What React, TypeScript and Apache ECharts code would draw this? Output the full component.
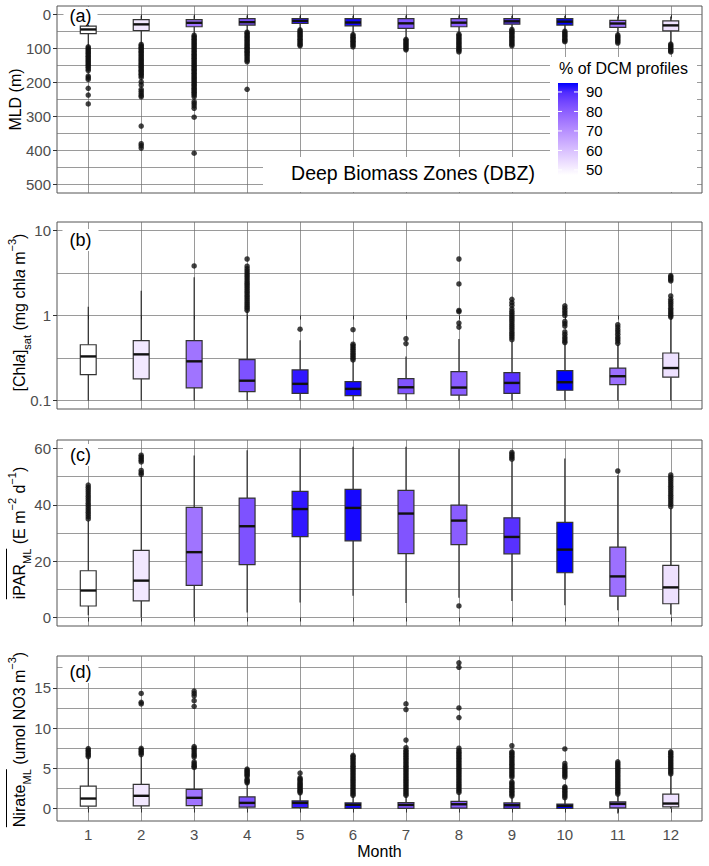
import React, { useEffect, useRef } from "react";
import * as echarts from "echarts";

const FONT = '"Liberation Sans", Arial, Helvetica, sans-serif';

// ---------- data ----------
const months = [1, 2, 3, 4, 5, 6, 7, 8, 9, 10, 11, 12];
const monthLabels = ["1", "2", "3", "4", "5", "6", "7", "8", "9", "10", "11", "12"];

// % of DCM profiles per month (fill colour)
const dcmPercent = [47.4, 52.1, 75.7, 82.8, 92.7, 94.1, 82.3, 80.4, 88.9, 94.6, 76.7, 53.5];
const legendTicks = [50, 60, 70, 80, 90];

// (a) MLD (m): [lower whisker, q1, median, q3, upper whisker]
const mldStats = [
  [20, 34, 44, 56, 92],
  [4, 15, 29, 47, 85],
  [3, 15, 24.5, 36, 58],
  [3, 12, 22.5, 31, 50],
  [4, 12, 19, 26.5, 43],
  [4, 12, 23.5, 33.5, 56],
  [3, 12, 26, 41, 70],
  [3, 12, 24, 36, 56],
  [4, 12, 20, 28.5, 42],
  [4, 12, 21, 31, 47],
  [6, 17, 26.5, 38, 57],
  [6, 19, 32, 48, 84],
];
const mldOutliers = [
  [95, 99, 103, 107, 111, 115, 119, 123, 127, 131, 135, 139, 143, 147, 151, 155, 160, 165, 181, 186, 191, 217, 237, 263],
  [88, 92, 96, 100, 104, 108, 112, 116, 120, 124, 128, 132, 136, 140, 144, 148, 152, 156, 160, 164, 168, 172, 176, 180, 185, 198, 207, 220, 226, 232, 238, 242, 328, 380, 386, 393],
  [61, 65, 69, 73, 77, 81, 85, 89, 93, 97, 101, 105, 109, 113, 117, 121, 125, 129, 133, 137, 141, 145, 149, 153, 157, 161, 165, 169, 173, 177, 181, 185, 189, 193, 197, 201, 205, 209, 213, 217, 221, 225, 229, 233, 237, 242, 256, 262, 269, 276, 302, 408],
  [52, 56, 60, 64, 68, 72, 76, 80, 84, 88, 92, 96, 100, 104, 108, 112, 116, 120, 125, 130, 135, 139, 220],
  [45, 49, 53, 57, 61, 65, 69, 73, 77, 81, 85, 89, 92],
  [59, 63, 67, 71, 75, 79, 83, 87, 91, 95],
  [73, 77, 81, 85, 89, 93, 97, 101, 104],
  [58, 62, 66, 70, 74, 78, 82, 86, 90, 94, 98, 102, 106, 110],
  [44, 48, 52, 56, 60, 64, 68, 72, 76, 80, 84, 88, 92],
  [49, 53, 57, 61, 65, 69, 73, 77, 80],
  [60, 64, 68, 72, 76, 80, 84],
  [87, 91, 95, 99, 103, 107, 110],
];
const mldTicks = [0, 100, 200, 300, 400, 500];
const mldTickLabels = ["0", "100", "200", "300", "400", "500"];
const mldGridValues = [0, 50, 100, 150, 200, 250, 300, 350, 400, 450, 500];

// (b) [Chl a]sat (mg chl a m-3)
const chlStats = [
  [0.1, 0.202, 0.33, 0.453, 1.27],
  [0.1, 0.18, 0.349, 0.505, 1.95],
  [0.1, 0.141, 0.289, 0.505, 2.82],
  [0.1, 0.1275, 0.171, 0.302, 1.13],
  [0.1, 0.121, 0.157, 0.229, 0.51],
  [0.1, 0.1144, 0.137, 0.167, 0.29],
  [0.1, 0.12, 0.143, 0.181, 0.33],
  [0.1, 0.1154, 0.142, 0.219, 0.528],
  [0.1, 0.121, 0.161, 0.213, 0.495],
  [0.1, 0.132, 0.164, 0.225, 0.466],
  [0.1, 0.154, 0.193, 0.241, 0.453],
  [0.1, 0.188, 0.241, 0.362, 0.93],
];
const chlOutliers = [
  [],
  [],
  [3.83],
  [1.15, 1.22, 1.28, 1.35, 1.42, 1.5, 1.58, 1.67, 1.76, 1.86, 1.96, 2.07, 2.18, 2.3, 2.42, 2.55, 2.7, 2.85, 3.0, 3.17, 3.35, 3.55, 3.8, 4.62],
  [0.69],
  [0.3, 0.315, 0.33, 0.345, 0.36, 0.38, 0.4, 0.42, 0.44, 0.46, 0.68],
  [0.467, 0.533],
  [0.73, 0.815, 1.11, 1.145, 2.35, 4.62],
  [0.52, 0.55, 0.58, 0.61, 0.64, 0.68, 0.72, 0.76, 0.8, 0.85, 0.9, 0.95, 1.0, 1.06, 1.12, 1.2, 1.32, 1.42, 1.55],
  [0.48, 0.5, 0.53, 0.56, 0.6, 0.64, 0.75, 0.8, 0.85, 1.0, 1.07, 1.14, 1.22, 1.3],
  [0.47, 0.5, 0.53, 0.56, 0.6, 0.64, 0.68, 0.73, 0.78],
  [0.96, 1.0, 1.05, 1.1, 1.16, 1.22, 1.3, 1.38, 1.46, 1.55, 1.7, 2.55, 2.65, 2.75, 2.85, 2.95],
];
const chlTicks = [0.1, 1, 10];
const chlTickLabels = ["0.1", "1", "10"];
const chlGridValues = [0.1, 0.31623, 1, 3.1623, 10];

// (c) iPAR_ML (E m-2 d-1)
const iparStats = [
  [0.8, 4.1, 9.6, 16.6, 34.3],
  [0.2, 5.9, 13.1, 23.8, 50.2],
  [0.2, 11.4, 23.2, 39.1, 57.5],
  [1.8, 18.8, 32.4, 42.4, 59.4],
  [5.3, 28.7, 38.5, 44.8, 60.0],
  [7.7, 27.2, 38.9, 45.5, 60.6],
  [5.2, 22.7, 36.9, 45.1, 60.6],
  [7.0, 25.9, 34.4, 39.9, 59.9],
  [5.9, 22.6, 28.6, 35.4, 55.5],
  [4.4, 15.9, 24.1, 33.8, 56.4],
  [2.6, 7.6, 14.6, 25.0, 50.5],
  [1.1, 4.9, 10.7, 18.5, 38.7],
];
const iparOutliers = [
  [35, 35.8, 36.6, 37.4, 38.2, 39, 39.8, 40.6, 41.4, 42.2, 43, 43.8, 44.6, 45.4, 46.2, 47],
  [50.8, 51.4, 52.2, 55.2, 55.8, 56.4, 57, 57.6],
  [],
  [],
  [],
  [],
  [],
  [4.1],
  [56.2, 56.8, 57.4, 58, 58.6],
  [],
  [52],
  [39.4, 40.2, 41, 41.8, 42.6, 43.4, 44.2, 45, 45.8, 46.6, 47.4, 48.2, 49, 49.8, 50.6],
];
const iparTicks = [0, 20, 40, 60];
const iparTickLabels = ["0", "20", "40", "60"];
const iparGridValues = [0, 10, 20, 30, 40, 50, 60];

// (d) Nirate_ML (umol NO3 m-3)
const nitStats = [
  [0, 0.29, 1.24, 2.78, 6.3],
  [0, 0.33, 1.58, 2.99, 6.6],
  [0, 0.37, 1.33, 2.37, 4.9],
  [0, 0.17, 0.7, 1.45, 3.1],
  [0, 0.12, 0.7, 0.95, 1.85],
  [0, 0.02, 0.46, 0.7, 1.55],
  [0, 0.02, 0.45, 0.74, 1.55],
  [0, 0.04, 0.53, 0.9, 1.86],
  [0, 0.02, 0.41, 0.7, 1.45],
  [0, 0.0, 0.33, 0.54, 1.25],
  [-0.62, 0.08, 0.58, 0.83, 1.66],
  [0, 0.2, 0.62, 1.78, 4.15],
];
const nitOutliers = [
  [6.45, 6.65, 6.85, 7.05, 7.25, 7.45],
  [6.7, 6.9, 7.1, 7.3, 7.47, 13.0, 13.2, 14.3],
  [5.1, 5.25, 5.4, 5.6, 5.8, 6.4, 6.6, 6.8, 7.05, 7.3, 7.5, 7.7, 12.7, 13.4, 14.0, 14.3, 14.6],
  [3.2, 3.35, 3.5, 3.65, 4.0, 4.15, 4.3, 4.45, 4.6, 4.75, 4.9],
  [1.95, 2.1, 2.25, 2.4, 2.55, 2.7, 2.85, 3.0, 3.15, 3.3, 3.5, 3.65, 3.8, 4.4],
  [1.65, 1.85, 2.05, 2.25, 2.45, 2.65, 2.85, 3.05, 3.25, 3.45, 3.65, 3.85, 4.05, 4.25, 4.45, 4.65, 4.85, 5.05, 5.25, 5.45, 5.65, 5.85, 6.05, 6.25, 6.45, 6.6],
  [1.65, 1.85, 2.05, 2.25, 2.45, 2.65, 2.85, 3.05, 3.25, 3.45, 3.65, 3.85, 4.05, 4.25, 4.45, 4.65, 4.85, 5.05, 5.25, 5.45, 5.65, 5.85, 6.05, 6.25, 6.45, 6.65, 6.85, 7.05, 7.25, 7.55, 8.5, 12.3, 13.0],
  [2.0, 2.2, 2.4, 2.6, 2.8, 3.0, 3.2, 3.4, 3.6, 3.8, 4.0, 4.2, 4.4, 4.6, 4.8, 5.0, 5.2, 5.4, 5.6, 5.8, 6.0, 6.2, 6.4, 6.6, 6.8, 7.0, 7.2, 7.5, 11.3, 12.5, 17.55, 18.1],
  [1.55, 1.75, 1.95, 2.15, 2.35, 2.55, 2.75, 2.95, 3.15, 3.3, 3.9, 4.1, 4.3, 4.5, 4.7, 4.9, 5.1, 5.3, 5.5, 5.7, 5.9, 6.1, 6.3, 6.5, 6.7, 6.9, 7.05, 7.8],
  [1.35, 1.55, 1.75, 1.95, 2.15, 2.35, 2.55, 2.7, 3.9, 4.1, 4.3, 4.5, 4.7, 4.9, 5.1, 5.3, 5.6, 7.4],
  [1.8, 2.0, 2.2, 2.4, 2.6, 2.8, 3.0, 3.2, 3.4, 3.6, 3.8, 4.0, 4.2, 4.4, 4.6, 4.8, 5.0, 5.2, 5.4, 5.6, 5.8],
  [4.3, 4.5, 4.7, 4.9, 5.1, 5.3, 5.5, 5.7, 5.9, 6.1, 6.3, 6.5, 6.7, 6.9, 7.05],
];
const nitTicks = [0, 5, 10, 15];
const nitTickLabels = ["0", "5", "10", "15"];
const nitGridValues = [0, 2.5, 5, 7.5, 10, 12.5, 15, 17.5];

// ---------- colour helpers (CIELAB ramp white -> blue, like ggplot) ----------
function toLin(c: number) {
  c /= 255;
  return c <= 0.04045 ? c / 12.92 : Math.pow((c + 0.055) / 1.055, 2.4);
}
function fromLin(c: number) {
  const v = c <= 0.0031308 ? 12.92 * c : 1.055 * Math.pow(c, 1 / 2.4) - 0.055;
  return Math.round(Math.max(0, Math.min(1, v)) * 255);
}
function rgbToLab(rgb: number[]) {
  const R = toLin(rgb[0]), G = toLin(rgb[1]), B = toLin(rgb[2]);
  const X = (0.4124 * R + 0.3576 * G + 0.1805 * B) / 0.95047;
  const Y = 0.2126 * R + 0.7152 * G + 0.0722 * B;
  const Z = (0.0193 * R + 0.1192 * G + 0.9505 * B) / 1.08883;
  const f = (t: number) => (t > 0.008856 ? Math.cbrt(t) : 7.787 * t + 16 / 116);
  const fx = f(X), fy = f(Y), fz = f(Z);
  return [116 * fy - 16, 500 * (fx - fy), 200 * (fy - fz)];
}
function labToHex(lab: number[]) {
  const fy = (lab[0] + 16) / 116;
  const fx = fy + lab[1] / 500;
  const fz = fy - lab[2] / 200;
  const inv = (t: number) => (t * t * t > 0.008856 ? t * t * t : (t - 16 / 116) / 7.787);
  const X = inv(fx) * 0.95047, Y = inv(fy), Z = inv(fz) * 1.08883;
  const R = 3.2406 * X - 1.5372 * Y - 0.4986 * Z;
  const G = -0.9689 * X + 1.8758 * Y + 0.0415 * Z;
  const B = 0.0557 * X - 0.204 * Y + 1.057 * Z;
  const h = (n: number) => n.toString(16).padStart(2, "0");
  return "#" + h(fromLin(R)) + h(fromLin(G)) + h(fromLin(B));
}
const LAB_LOW = rgbToLab([255, 255, 255]);
const LAB_HIGH = rgbToLab([0, 0, 255]);
function ramp(t: number) {
  const tt = Math.max(0, Math.min(1, t));
  return labToHex(LAB_LOW.map((v, i) => v + (LAB_HIGH[i] - v) * tt));
}

function measure(txt: string, size: number, style = "normal") {
  const ctx = document.createElement("canvas").getContext("2d")!;
  ctx.font = `${style} ${size}px ${FONT}`;
  return ctx.measureText(txt).width;
}

// ---------- layout ----------
const GRIDS = [
  { left: 57, top: 6, width: 645, height: 187 },
  { left: 57, top: 222, width: 645, height: 187 },
  { left: 57, top: 440, width: 645, height: 186 },
  { left: 57, top: 656, width: 645, height: 165 },
];
const GRID_LINE = { color: "#6e6e6e", width: 0.7 };
const TICK_COLOR = "#333";
const LABEL_COLOR = "#4d4d4d";

export default function App() {
  const ref = useRef<HTMLDivElement>(null);

  useEffect(() => {
    document.body.style.margin = "0";
    if (!ref.current) return;
    const chart = echarts.init(ref.current, undefined, { renderer: "svg" });

    const pMin = Math.min(...dcmPercent);
    const pMax = Math.max(...dcmPercent);
    const fills = dcmPercent.map((p) => ramp((p - pMin) / (pMax - pMin)));

    const lg = (v: number) => Math.log10(v);
    const id = (v: number) => v;

    const panels = [
      { stats: mldStats, outs: mldOutliers, tf: id, ticks: mldTicks, labels: mldTickLabels, gridVals: mldGridValues, min: -25, max: 525, inverse: true },
      { stats: chlStats, outs: chlOutliers, tf: lg, ticks: chlTicks, labels: chlTickLabels, gridVals: chlGridValues, min: -1.1, max: 1.1, inverse: false },
      { stats: iparStats, outs: iparOutliers, tf: id, ticks: iparTicks, labels: iparTickLabels, gridVals: iparGridValues, min: -3, max: 63, inverse: false },
      { stats: nitStats, outs: nitOutliers, tf: id, ticks: nitTicks, labels: nitTickLabels, gridVals: nitGridValues, min: -1.55, max: 18.95, inverse: false },
    ];

    const grid: any[] = [];
    const xAxis: any[] = [];
    const yAxis: any[] = [];
    const series: any[] = [];

    panels.forEach((p, gi) => {
      grid.push({ ...GRIDS[gi], show: true, borderColor: "#555", borderWidth: 1, backgroundColor: "transparent", containLabel: false });
      xAxis.push({
        type: "value",
        gridIndex: gi,
        min: 0.41,
        max: 12.59,
        axisLine: { show: false },
        axisTick: { show: true, customValues: months, length: 4, lineStyle: { color: TICK_COLOR, width: 1 } },
        axisLabel: {
          show: gi === 3,
          customValues: months,
          formatter: (v: number) => monthLabels[months.indexOf(Math.round(v))],
          fontSize: 15,
          color: LABEL_COLOR,
          margin: 6,
          fontFamily: FONT,
        },
        splitLine: { show: true, lineStyle: GRID_LINE },
      });
      const tfGrid = p.gridVals.map(p.tf);
      const tfTicks = p.ticks.map(p.tf);
      // axis carrying the (major + minor) grid lines
      yAxis.push({
        type: "value",
        gridIndex: gi,
        position: "left",
        min: p.min,
        max: p.max,
        inverse: p.inverse,
        axisLine: { show: false },
        axisTick: { show: false, customValues: tfGrid },
        axisLabel: { show: false, customValues: tfGrid },
        splitLine: { show: true, lineStyle: GRID_LINE },
      });
      // axis carrying labels and tick marks
      yAxis.push({
        type: "value",
        gridIndex: gi,
        position: "left",
        min: p.min,
        max: p.max,
        inverse: p.inverse,
        axisLine: { show: false },
        axisTick: { show: true, customValues: tfTicks, length: 4, lineStyle: { color: TICK_COLOR, width: 1 } },
        axisLabel: {
          show: true,
          customValues: tfTicks,
          formatter: (v: number) => {
            const k = tfTicks.findIndex((t) => Math.abs(t - v) < 1e-6);
            return k >= 0 ? p.labels[k] : "";
          },
          fontSize: 15,
          color: LABEL_COLOR,
          margin: 6,
          fontFamily: FONT,
        },
        splitLine: { show: false },
      });

      series.push({
        type: "custom",
        xAxisIndex: gi,
        yAxisIndex: gi * 2,
        silent: true,
        z: 3,
        encode: { x: 0, y: [1, 2, 3, 4, 5] },
        data: p.stats.map((s, k) => [months[k], ...s.map(p.tf)]),
        renderItem: (params: any, api: any) => {
          const x = api.value(0);
          const pts = [1, 2, 3, 4, 5].map((d) => api.coord([x, api.value(d)]));
          const w = api.size([0.3, 0])[0];
          const cx = pts[0][0];
          const top = Math.min(pts[1][1], pts[3][1]);
          const h = Math.abs(pts[1][1] - pts[3][1]);
          return {
            type: "group",
            children: [
              { type: "line", shape: { x1: cx, y1: pts[0][1], x2: cx, y2: pts[1][1] }, style: { stroke: "#222", lineWidth: 1.1 } },
              { type: "line", shape: { x1: cx, y1: pts[3][1], x2: cx, y2: pts[4][1] }, style: { stroke: "#222", lineWidth: 1.1 } },
              { type: "rect", shape: { x: cx - w / 2, y: top, width: w, height: h }, style: { fill: fills[params.dataIndex], stroke: "#333", lineWidth: 1.2 } },
              { type: "line", shape: { x1: cx - w / 2, y1: pts[2][1], x2: cx + w / 2, y2: pts[2][1] }, style: { stroke: "#111", lineWidth: 2.4 } },
            ],
          };
        },
      });
      series.push({
        type: "scatter",
        xAxisIndex: gi,
        yAxisIndex: gi * 2,
        silent: true,
        z: 4,
        symbol: "circle",
        symbolSize: 5.5,
        itemStyle: { color: "#111" },
        data: p.outs.flatMap((arr, k) => arr.map((v) => [months[k], p.tf(v)])),
      });
    });

    // ---------- axis titles ----------
    const mainSize = 16;
    const subSize = 11;
    const rich = {
      m: { fontSize: mainSize, lineHeight: 26, fontFamily: FONT, fill: "#000" },
      i: { fontSize: mainSize, lineHeight: 26, fontFamily: FONT, fontStyle: "italic", fill: "#000" },
      sub: { fontSize: subSize, lineHeight: 18, verticalAlign: "bottom", fontFamily: FONT, fill: "#000" },
      sup: { fontSize: subSize, lineHeight: 10, verticalAlign: "top", fontFamily: FONT, fill: "#000" },
    };
    const rotTitle = (x: number, y: number, text: string) => ({
      type: "text",
      x,
      y,
      rotation: Math.PI / 2,
      z: 70,
      silent: true,
      style: { text, rich, align: "center", verticalAlign: "middle", fontSize: mainSize, fontFamily: FONT, fill: "#000" },
    });
    const cy = (gi: number) => GRIDS[gi].top + GRIDS[gi].height / 2;

    const cTotal = measure("iPAR", mainSize) + measure("ML", subSize) + measure(" (E m", mainSize) + measure("−2", subSize) + measure(" d", mainSize) + measure("−1", subSize) + measure(")", mainSize);
    const cBar = measure("iPAR", mainSize) + measure("ML", subSize);
    const dTotal = measure("Nirate", mainSize) + measure("ML", subSize) + measure(" (umol NO3 m", mainSize) + measure("−3", subSize) + measure(")", mainSize);
    const dBar = measure("Nirate", mainSize) + measure("ML", subSize);

    const titleX = 19.5;
    const barX = titleX - 13;

    const graphic: any[] = [
      rotTitle(15, cy(0), "{m|MLD (m)}"),
      rotTitle(titleX, cy(1) - 3, "{m|[Chl}{i|a}{m|]}{sub|sat}{m| (mg chl}{i|a}{m| m}{sup|−3}{m|)}"),
      rotTitle(titleX, cy(2), "{m|iPAR}{sub|ML}{m| (E m}{sup|−2}{m| d}{sup|−1}{m|)}"),
      rotTitle(titleX, cy(3) + 1, "{m|Nirate}{sub|ML}{m| (umol NO3 m}{sup|−3}{m|)}"),
      {
        type: "line", z: 70, silent: true,
        shape: { x1: barX, y1: cy(2) + cTotal / 2 - cBar, x2: barX, y2: cy(2) + cTotal / 2 },
        style: { stroke: "#000", lineWidth: 1 },
      },
      {
        type: "line", z: 70, silent: true,
        shape: { x1: barX, y1: cy(3) + 1 + dTotal / 2 - dBar, x2: barX, y2: cy(3) + 1 + dTotal / 2 },
        style: { stroke: "#000", lineWidth: 1 },
      },
      {
        type: "text", x: 379.5, y: 851, z: 70, silent: true,
        style: { text: "Month", fontSize: 16, fontFamily: FONT, fill: "#000", align: "center", verticalAlign: "middle" },
      },
    ];

    // panel tags
    const tagY = [16, 240, 455, 672];
    ["(a)", "(b)", "(c)", "(d)"].forEach((t, k) => {
      graphic.push({
        type: "text", x: 80.5, y: tagY[k], z: 80, silent: true,
        style: {
          text: t, fontSize: 18, fontFamily: FONT, fill: "#000", align: "center", verticalAlign: "middle",
          backgroundColor: "#fff", padding: k === 0 ? [0, 6, 0, 6] : [2, 7, 2, 7],
        },
      });
    });

    // DBZ label and legend boxes (white)
    graphic.push({ type: "rect", z: 60, silent: true, shape: { x: 263, y: 157, width: 290, height: 35 }, style: { fill: "#fff" } });
    graphic.push({ type: "rect", z: 60, silent: true, shape: { x: 550, y: 57, width: 147, height: 135 }, style: { fill: "#fff" } });
    graphic.push({
      type: "text", x: 413, y: 173, z: 80, silent: true,
      style: { text: "Deep Biomass Zones (DBZ)", fontSize: 19.5, fontFamily: FONT, fill: "#000", align: "center", verticalAlign: "middle" },
    });
    graphic.push({
      type: "text", x: 559, y: 68, z: 80, silent: true,
      style: { text: "% of DCM profiles", fontSize: 16, fontFamily: FONT, fill: "#000", align: "left", verticalAlign: "middle" },
    });
    const barTop = 83, barH = 92, barLeft = 558, barW = 20;
    const stops = [0, 0.1, 0.2, 0.3, 0.4, 0.5, 0.6, 0.7, 0.8, 0.9, 1].map((t) => ({ offset: t, color: ramp(t) }));
    graphic.push({
      type: "rect", z: 80, silent: true,
      shape: { x: barLeft, y: barTop, width: barW, height: barH },
      style: { fill: new echarts.graphic.LinearGradient(0, 1, 0, 0, stops) },
    });
    const yOf = (v: number) => barTop + (barH * (pMax - v)) / (pMax - pMin);
    legendTicks.forEach((v) => {
      const y = yOf(v);
      graphic.push({ type: "line", z: 81, silent: true, shape: { x1: barLeft, y1: y, x2: barLeft + 4, y2: y }, style: { stroke: "#fff", lineWidth: 1 } });
      graphic.push({ type: "line", z: 81, silent: true, shape: { x1: barLeft + barW - 4, y1: y, x2: barLeft + barW, y2: y }, style: { stroke: "#fff", lineWidth: 1 } });
      graphic.push({
        type: "text", x: 586, y, z: 81, silent: true,
        style: { text: String(v), fontSize: 15, fontFamily: FONT, fill: "#000", align: "left", verticalAlign: "middle" },
      });
    });

    chart.setOption({
      animation: false,
      backgroundColor: "#fff",
      textStyle: { fontFamily: FONT },
      grid,
      xAxis,
      yAxis,
      series,
      graphic,
    });

    return () => chart.dispose();
  }, []);

  return <div ref={ref} style={{ width: 709, height: 866 }} />;
}
